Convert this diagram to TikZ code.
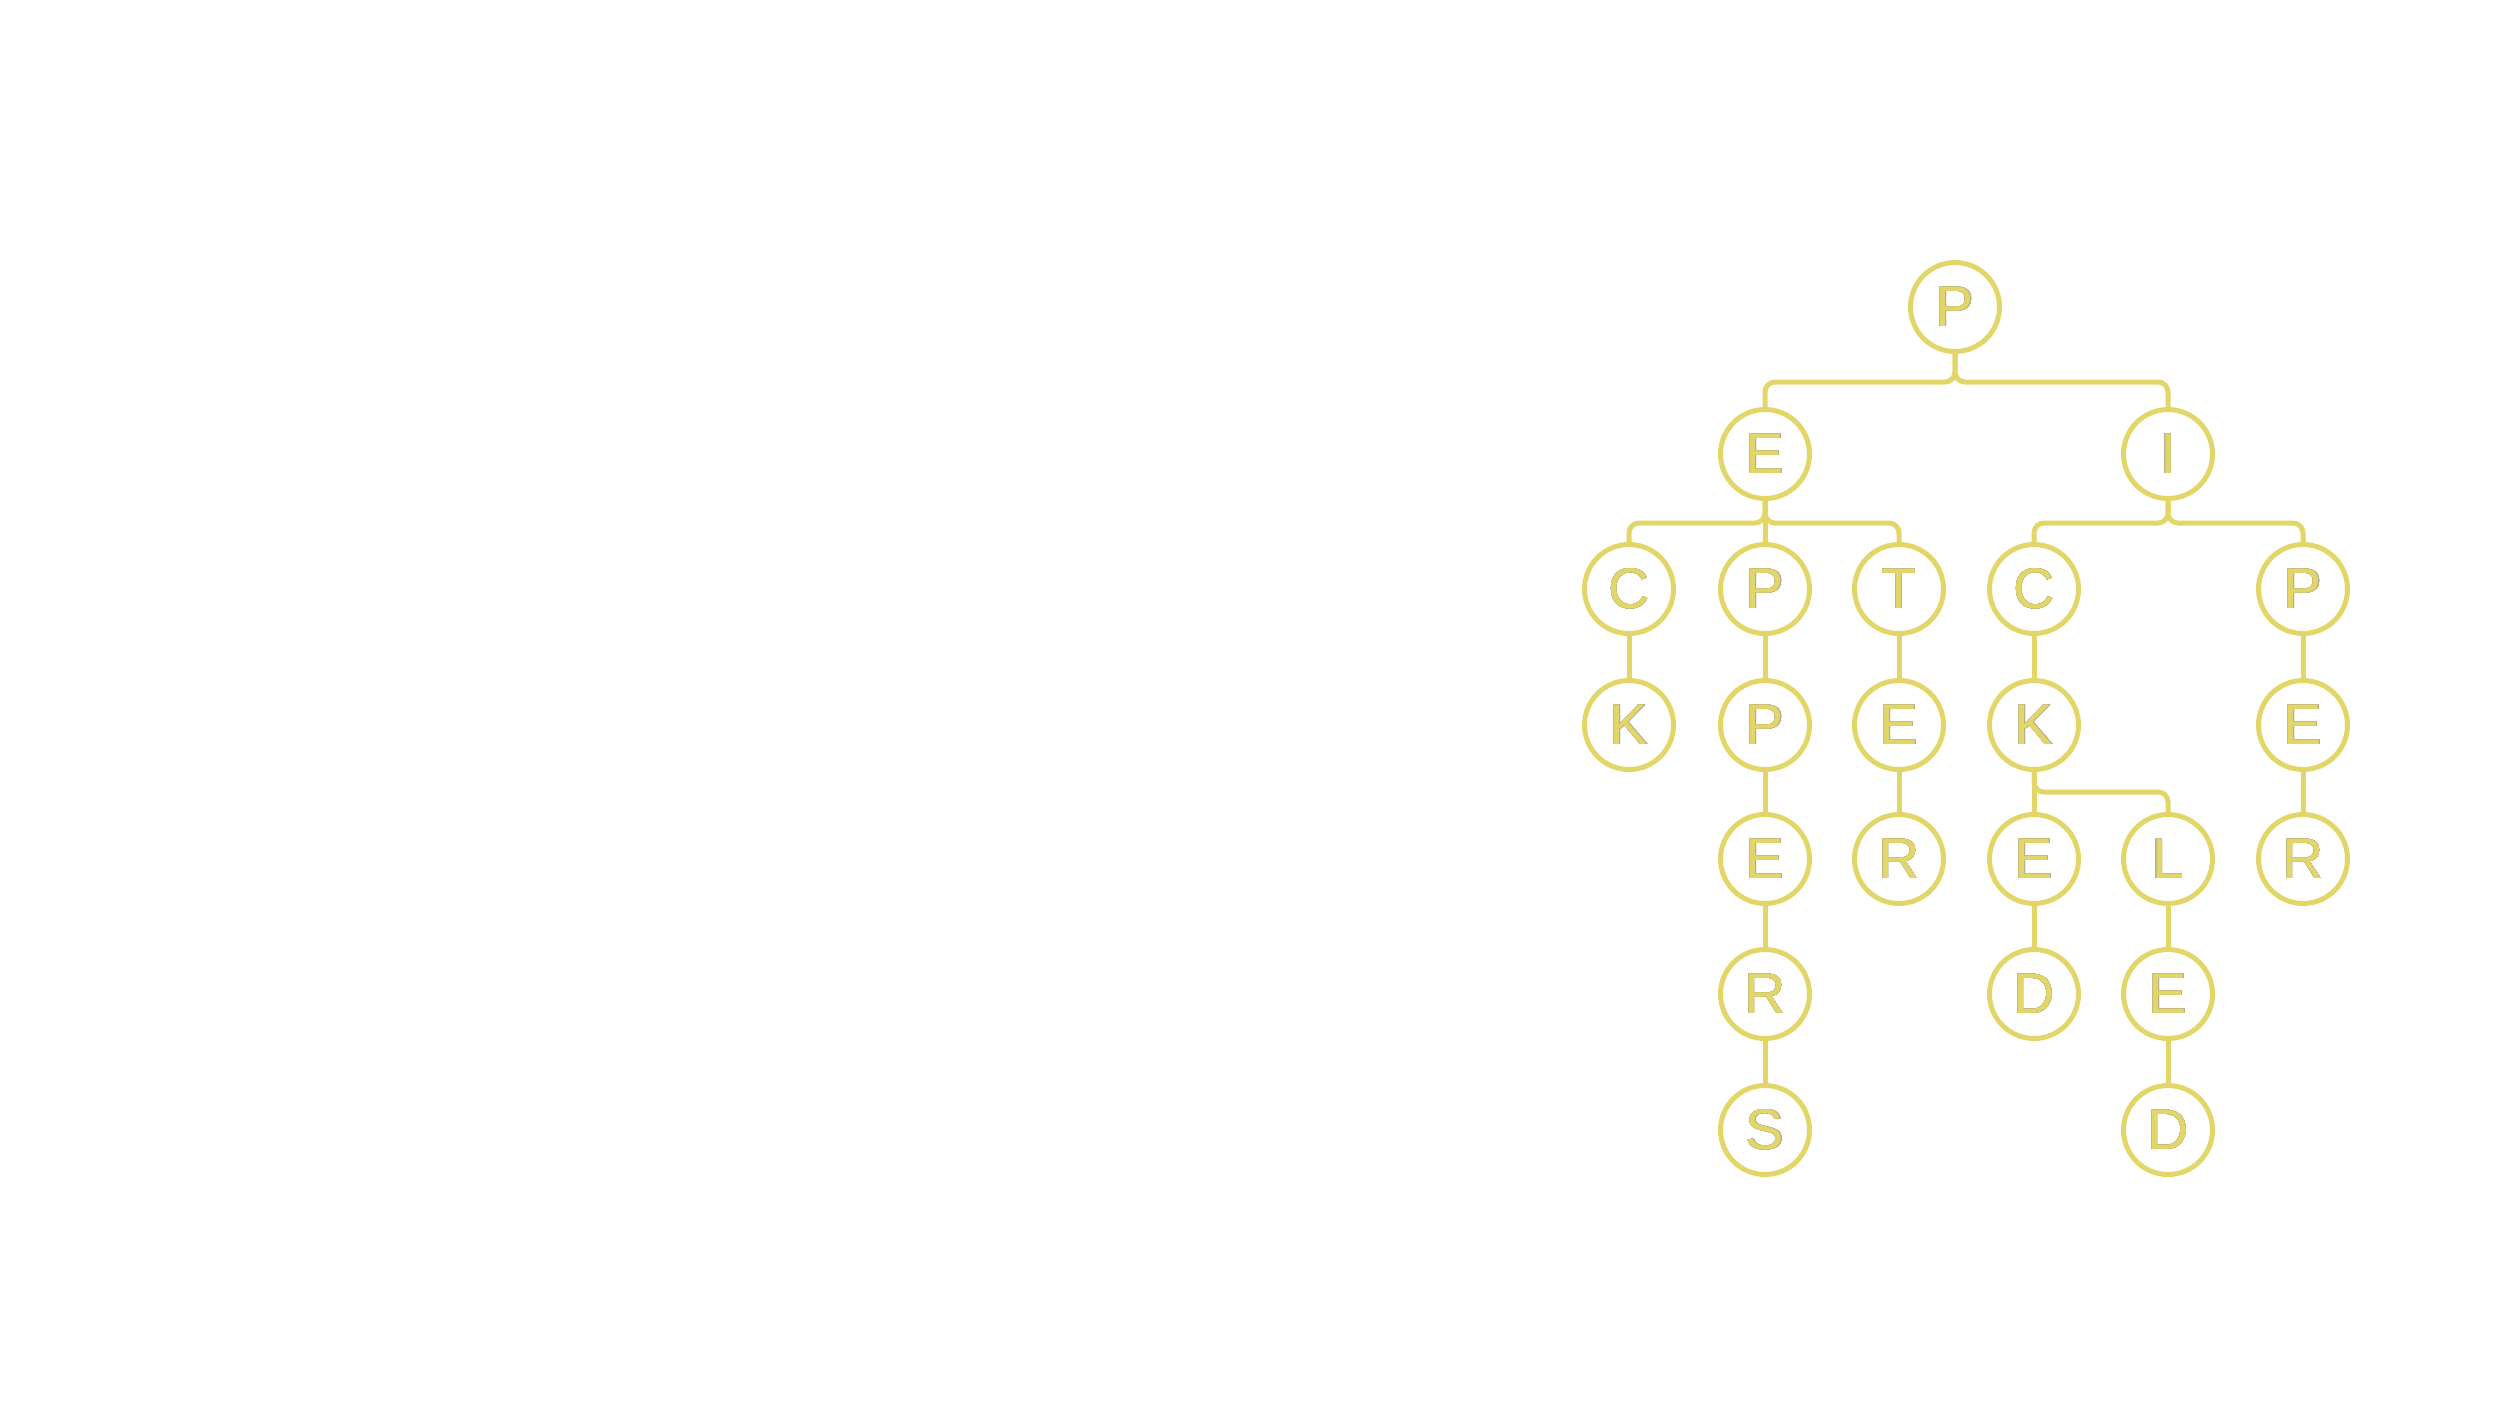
\documentclass[tikz,border=0pt]{standalone}
\usepackage{fontspec}
\setmainfont{Liberation Sans}
\usepackage{tkz-graph}
\usepackage{contour}
\contourlength{0.08pt}
\definecolor{tyellow}{RGB}{227,214,104}
\definecolor{tgray}{RGB}{180,175,140}
\protected\def\lbl#1{\contour{tgray}{#1}}

\begin{document}
\begin{tikzpicture}[x=0.1mm,y=-0.1mm]
\useasboundingbox (0,0) rectangle (2508,1415);
\GraphInit[vstyle=Empty]
\tikzset{VertexStyle/.style ={circle, draw=tyellow, line width=1.42pt, fill=white,
  minimum size=8.9mm, inner sep=0pt, text=tyellow, font=\fontsize{16.3}{18}\selectfont}}
\tikzset{EdgeStyle/.style ={draw=tyellow, line width=1.42pt}}
\tikzset{bus/.style ={draw=tyellow, line width=1.42pt, rounded corners=1mm}}
% root and first level
\Vertex[x=1955, y=307, L={\lbl{P}}]{P0}
\Vertex[x=1765, y=454, L={\lbl{E}}]{E1}
\Vertex[x=2168, y=454, L={\lbl{I}}]{I1}
% second level
\Vertex[x=1629, y=589, L={\lbl{C}}]{C2}
\Vertex[x=1765, y=589, L={\lbl{P}}]{P2}
\Vertex[x=1899, y=589, L={\lbl{T}}]{T2}
\Vertex[x=2034, y=589, L={\lbl{C}}]{C3}
\Vertex[x=2303, y=589, L={\lbl{P}}]{P3}
\Vertex[x=1629, y=725, L={\lbl{K}}]{K2}
\Vertex[x=1765, y=725, L={\lbl{P}}]{P4}
\Vertex[x=1899, y=725, L={\lbl{E}}]{E2}
\Vertex[x=2034, y=725, L={\lbl{K}}]{K3}
\Vertex[x=2303, y=725, L={\lbl{E}}]{E3}
\Vertex[x=1765, y=859, L={\lbl{E}}]{E4}
\Vertex[x=1899, y=859, L={\lbl{R}}]{R2}
\Vertex[x=2034, y=859, L={\lbl{E}}]{E5}
\Vertex[x=2168, y=859, L={\lbl{L}}]{L3}
\Vertex[x=2303, y=859, L={\lbl{R}}]{R3}
\Vertex[x=1765, y=994, L={\lbl{R}}]{R4}
\Vertex[x=2034, y=994, L={\lbl{D}}]{D3}
\Vertex[x=2168, y=994, L={\lbl{E}}]{E6}
\Vertex[x=1765, y=1130, L={\lbl{S}}]{S4}
\Vertex[x=2168, y=1130, L={\lbl{D}}]{D4}
% branching buses
\draw[bus] (P0) -- (P0 |- 0,382) -| (E1);
\draw[bus] (P0) -- (P0 |- 0,382) -| (I1);
\draw[bus] (E1) -- (E1 |- 0,523) -| (C2);
\draw[bus] (E1) -- (E1 |- 0,523) -| (T2);
\draw[bus] (I1) -- (I1 |- 0,523) -| (C3);
\draw[bus] (I1) -- (I1 |- 0,523) -| (P3);
\draw[bus] (K3) -- (K3 |- 0,792) -| (L3);
% straight links
\Edge(E1)(P2)
\Edge(C2)(K2)
\Edge(P2)(P4)
\Edge(P4)(E4)
\Edge(E4)(R4)
\Edge(R4)(S4)
\Edge(T2)(E2)
\Edge(E2)(R2)
\Edge(C3)(K3)
\Edge(K3)(E5)
\Edge(E5)(D3)
\Edge(L3)(E6)
\Edge(E6)(D4)
\Edge(P3)(E3)
\Edge(E3)(R3)
\end{tikzpicture}
\end{document}
